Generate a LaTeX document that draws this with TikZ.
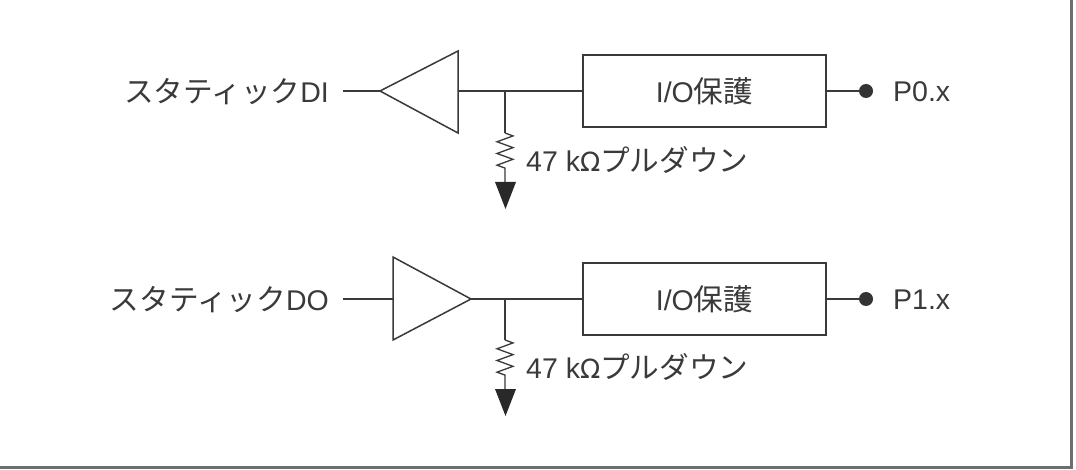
\documentclass[tikz,border=0pt]{standalone}
\usepackage{fontspec}
\setmainfont{Liberation Sans}
\newfontfamily\cjk[Scale=1.04]{Noto Sans CJK JP}
\usetikzlibrary{decorations.pathmorphing}
\definecolor{ink}{HTML}{3A3A3C}
\definecolor{framec}{HTML}{6E6E70}
\newcommand{\ohm}{{\fontspec{DejaVu Sans}\fontsize{26.5}{26.5}\selectfont Ω}}
\tikzset{
  wire/.style={draw=ink,line width=1.5pt},
  ampl/.style={draw=ink,line width=1.5pt,line join=miter},
  iobox/.style={draw=ink,line width=1.5pt,minimum width=243pt,minimum height=72pt,inner sep=0pt,font=\fontsize{28.5}{28.5}\selectfont,text=ink},
  lab/.style={inner sep=0pt,font=\fontsize{28.5}{28.5}\selectfont,text=ink},
  res/.style={draw=ink,line width=1.3pt,decorate,decoration={zigzag,segment length=11.7pt,amplitude=8pt}},
  term/.style={circle,fill=ink!90!black,inner sep=0pt,minimum size=14pt},
  gnd/.style={fill=ink!70!black,draw=none},
}
\begin{document}
\begin{tikzpicture}[x=1pt,y=-1pt]
\useasboundingbox (0,0) rectangle (1076,470);
\fill[white] (0,0) rectangle (1076,470);
\draw[framec,line width=3pt] (1071,0) -- (1071,467.5) -- (0,467.5);
% top row
\node[lab,anchor=east] (inA) at (329,91.5) {{\cjk スタティック}DI};
\coordinate (tipA) at (380,91);
\coordinate (baseA) at (458,91);
\coordinate (juncA) at (505,91);
\draw[ampl] (tipA) -- (458,51) -- (458,133) -- cycle;
\draw[wire] (343,91) -- (tipA);
\node[iobox] (boxA) at (704.5,91) {I/O{\cjk 保護}};
\draw[wire] (baseA) -- (boxA.west);
\node[term] (dotA) at (866,91) {};
\draw[wire] (boxA.east) -- (dotA);
\node[lab,anchor=west] (pA) at (893,91.5) {P0.x};
\coordinate (r1A) at (505,133);
\coordinate (r2A) at (505,170);
\coordinate (gA) at (505,183);
\draw[wire] (juncA) -- (r1A);
\draw[wire,line width=1.3pt] (r1A) -- ++(0,0) decorate[res] {-- (r2A)} -- (gA);
\fill[gnd] (495,182) -- (516,182) -- (505.5,209) -- cycle;
\node[lab,anchor=west] (rA) at (526,159.5) {47 k\ohm{\cjk プルダウン}};
% bottom row
\node[lab,anchor=east] (inB) at (329,299.5) {{\cjk スタティック}DO};
\coordinate (tipB) at (471,299);
\coordinate (baseB) at (393,299);
\coordinate (juncB) at (505,299);
\draw[ampl] (393,257) -- (tipB) -- (393,340) -- cycle;
\draw[wire] (343,299) -- (baseB);
\node[iobox] (boxB) at (704.5,299) {I/O{\cjk 保護}};
\draw[wire] (tipB) -- (boxB.west);
\node[term] (dotB) at (866,299) {};
\draw[wire] (boxB.east) -- (dotB);
\node[lab,anchor=west] (pB) at (893,299.5) {P1.x};
\coordinate (r1B) at (505,340);
\coordinate (r2B) at (505,377);
\coordinate (gB) at (505,390);
\draw[wire] (juncB) -- (r1B);
\draw[wire,line width=1.3pt] (r1B) -- ++(0,0) decorate[res] {-- (r2B)} -- (gB);
\fill[gnd] (495,389) -- (516,389) -- (505.5,416) -- cycle;
\node[lab,anchor=west] (rB) at (526,366.5) {47 k\ohm{\cjk プルダウン}};
\end{tikzpicture}
\end{document}
